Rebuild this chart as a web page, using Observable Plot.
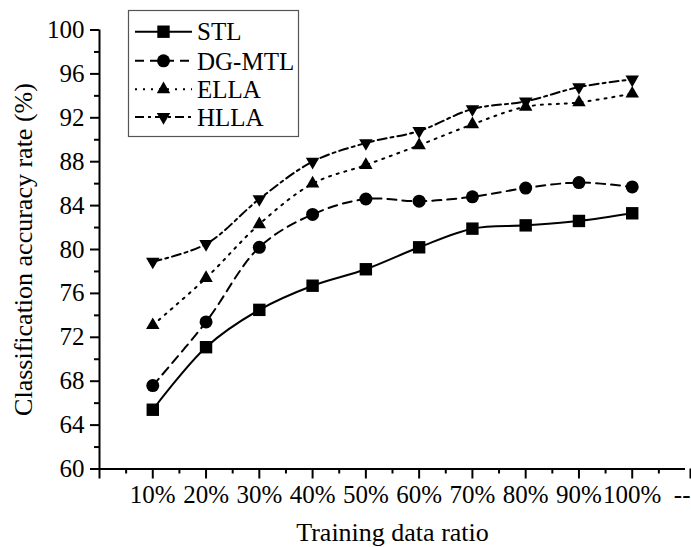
<!DOCTYPE html>
<html>
<head>
<meta charset="utf-8">
<script src="https://cdn.jsdelivr.net/npm/d3@7"></script>
<script src="https://cdn.jsdelivr.net/npm/@observablehq/plot@0.6"></script>
<style>
  html, body { margin: 0; padding: 0; background: #fff; }
  #chart { width: 691px; height: 547px; }
</style>
</head>
<body>
<div id="chart"></div>
<script>
// ---- data ----
const ratios = [10, 20, 30, 40, 50, 60, 70, 80, 90, 100];
const stl   = [65.4, 71.1, 74.5, 76.7, 78.2, 80.2, 81.9, 82.2, 82.6, 83.3];
const dgmtl = [67.6, 73.4, 80.2, 83.2, 84.6, 84.4, 84.8, 85.6, 86.1, 85.7];
const ella  = [73.1, 77.4, 82.3, 86.0, 87.7, 89.5, 91.4, 93.0, 93.4, 94.2];
const hlla  = [78.9, 80.5, 84.6, 88.0, 89.7, 90.8, 92.8, 93.5, 94.8, 95.5];
const seriesNames = ["STL", "DG-MTL", "ELLA", "HLLA"];
const xTicks = [0, 10, 20, 30, 40, 50, 60, 70, 80, 90, 100];
const xTickLabels = ["", "10%", "20%", "30%", "40%", "50%", "60%", "70%", "80%", "90%", "100%"];
const xEndTick = [110];
const xEndLabel = "--";
const xMinorTicks = [5, 15, 25, 35, 45, 55, 65, 75, 85, 95, 105];
const yTicks = [60, 64, 68, 72, 76, 80, 84, 88, 92, 96, 100];
const yMinorTicks = [62, 66, 70, 74, 78, 82, 86, 90, 94, 98];
const xTitle = "Training data ratio";
const yTitle = "Classification accuracy rate (%)";

// ---- styles ----
const styles = {
  "STL":    {dash: null,       symbol: "square",   r: 7.0, rotate: 0},
  "DG-MTL": {dash: "9,6",      symbol: "circle",   r: 6.5, rotate: 0},
  "ELLA":   {dash: "2,6",      symbol: "triangle", r: 5.0, rotate: 0},
  "HLLA":   {dash: "9,4,3,4",  symbol: "triangle", r: 5.0, rotate: 180}
};
const allValues = [stl, dgmtl, ella, hlla];
const rows = [];
seriesNames.forEach((s, i) => ratios.forEach((x, j) => rows.push({series: s, x, y: allValues[i][j]})));

const font = "Liberation Serif, Times New Roman, serif";
const marks = [];
seriesNames.forEach(s => {
  const d = rows.filter(r => r.series === s);
  const st = styles[s];
  marks.push(Plot.line(d, {x: "x", y: "y", stroke: "black", strokeWidth: 2,
    strokeDasharray: st.dash || undefined, curve: "catmull-rom"}));
  marks.push(Plot.dot(d, {x: "x", y: "y", symbol: () => st.symbol, r: st.r, fill: "black",
    stroke: "none", rotate: st.rotate}));
});

const plot = Plot.plot({
  width: 691,
  height: 547,
  marginLeft: 99,
  marginRight: 6,
  marginTop: 29.5,
  marginBottom: 78.5,
  style: {fontFamily: font, fontSize: "25px", color: "black", background: "white"},
  x: {domain: [0, 110], type: "linear"},
  y: {domain: [60, 100]},
  symbol: {type: "identity"},
  marks: [
    Plot.axisX({ticks: xTicks, tickSize: 10, tickPadding: 6, strokeWidth: 2,
      tickFormat: (d) => xTickLabels[xTicks.indexOf(d)], label: xTitle,
      labelAnchor: "center", labelArrow: "none", labelOffset: 72, fontSize: 25}),
    Plot.axisX({ticks: xEndTick, tickSize: 10, tickPadding: 6, strokeWidth: 2,
      tickFormat: () => xEndLabel, textAnchor: "end", dx: 5, label: null, fontSize: 25}),
    Plot.axisX({ticks: xMinorTicks, tickSize: 5, strokeWidth: 2, tickFormat: () => "", label: null}),
    Plot.axisY({ticks: yTicks, tickSize: 9, tickPadding: 6, strokeWidth: 2,
      label: yTitle, labelAnchor: "center", labelArrow: "none",
      labelOffset: 86, fontSize: 25}),
    Plot.axisY({ticks: yMinorTicks, tickSize: 5, strokeWidth: 2, tickFormat: () => "", label: null}),
    Plot.ruleX([0], {strokeWidth: 2}),
    Plot.ruleY([60], {strokeWidth: 2}),
    ...marks
  ]
});
document.getElementById("chart").appendChild(plot);

// axis titles slightly larger than tick labels
d3.select(plot).selectAll("g[aria-label='x-axis label'] text, g[aria-label='y-axis label'] text")
  .attr("font-size", 26);

// ---- legend (drawn into the svg) ----
const svg = d3.select(plot);
const lg = svg.append("g").attr("class", "legend").attr("text-anchor", "start");
const box = {x: 128.5, y: 10.5, w: 170, h: 126};
lg.append("rect").attr("x", box.x).attr("y", box.y).attr("width", box.w).attr("height", box.h)
  .attr("fill", "white").attr("stroke", "#555").attr("stroke-width", 1.2);
const rowYs = [31.7, 60.8, 89.3, 117];
seriesNames.forEach((s, i) => {
  const st = styles[s];
  const y = rowYs[i];
  lg.append("line").attr("x1", 135).attr("x2", 192).attr("y1", y).attr("y2", y)
    .attr("stroke", "black").attr("stroke-width", 2)
    .attr("stroke-dasharray", st.dash || null);
  const symType = {square: d3.symbolSquare, circle: d3.symbolCircle, triangle: d3.symbolTriangle}[st.symbol];
  lg.append("path").attr("d", d3.symbol(symType, Math.PI * st.r * st.r)())
    .attr("transform", `translate(163.5,${y}) rotate(${st.rotate})`).attr("fill", "black");
  lg.append("text").attr("x", 197).attr("y", y).attr("dy", "0.35em").attr("text-anchor", "start")
    .attr("font-family", font).attr("font-size", 25).attr("fill", "black").text(s);
});
</script>
</body>
</html>
